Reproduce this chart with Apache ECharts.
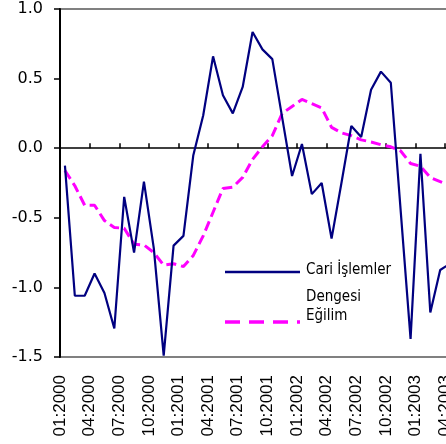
<!DOCTYPE html>
<html>
<head>
<meta charset="utf-8">
<script src="https://cdn.jsdelivr.net/npm/echarts@6/dist/echarts.min.js"></script>
<style>
  html, body { margin: 0; padding: 0; background: #fff; }
  #chart { width: 446px; height: 444px; }
</style>
</head>
<body>
<div id="chart"></div>
<script>
// aylar (veri noktalari)
const months = [
  '01:2000','02:2000','03:2000','04:2000','05:2000','06:2000','07:2000','08:2000','09:2000','10:2000','11:2000','12:2000',
  '01:2001','02:2001','03:2001','04:2001','05:2001','06:2001','07:2001','08:2001','09:2001','10:2001','11:2001','12:2001',
  '01:2002','02:2002','03:2002','04:2002','05:2002','06:2002','07:2002','08:2002','09:2002','10:2002','11:2002','12:2002',
  '01:2003','02:2003','03:2003','04:2003'
];
// eksen etiketleri (tik sinirlari)
const tickLabels = months.concat(['05:2003']);

const cariIslemler = [
  -0.125, -1.06, -1.06, -0.90, -1.04, -1.295, -0.35, -0.75, -0.24, -0.72, -1.49, -0.70,
  -0.63, -0.05, 0.235, 0.66, 0.38, 0.25, 0.44, 0.835, 0.71, 0.64, 0.22, -0.20,
  0.03, -0.33, -0.25, -0.65, -0.25, 0.16, 0.08, 0.42, 0.55, 0.47, -0.45, -1.37,
  -0.04, -1.18, -0.875, -0.83
];
const egilim = [
  -0.16, -0.27, -0.41, -0.41, -0.52, -0.57, -0.575, -0.69, -0.695, -0.75, -0.84, -0.83,
  -0.85, -0.77, -0.63, -0.46, -0.29, -0.28, -0.21, -0.08, 0.01, 0.09, 0.25, 0.30,
  0.35, 0.32, 0.29, 0.15, 0.11, 0.09, 0.06, 0.045, 0.025, 0.01, -0.02, -0.11,
  -0.13, -0.21, -0.24, -0.27
];

const chart = echarts.init(document.getElementById('chart'));
const legendFont = '"DejaVu Sans Condensed", "DejaVu Sans", sans-serif';

chart.setOption({
  animation: false,
  grid: {
    left: 60, top: 9, width: 395, height: 348,
    show: true, borderColor: '#808080', borderWidth: 2,
    outerBoundsMode: 'none'
  },
  xAxis: [
    {
      // alt etiketler
      type: 'category',
      data: tickLabels,
      boundaryGap: false,
      position: 'bottom',
      axisLine: { show: false, onZero: false },
      axisTick: { show: false },
      axisLabel: {
        rotate: 90, interval: 2, margin: 18,
        color: '#000', fontSize: 17, fontFamily: '"Liberation Sans", Arial, sans-serif'
      },
      splitLine: { show: false }
    },
    {
      // sifir cizgisi
      type: 'category',
      data: months,
      boundaryGap: true,
      position: 'top',
      axisLine: { show: true, onZero: true, lineStyle: { color: '#000', width: 1.5 } },
      axisTick: { show: true, interval: 2, length: 5, lineStyle: { color: '#000', width: 1.5 } },
      axisLabel: { show: false },
      splitLine: { show: false }
    }
  ],
  yAxis: {
    type: 'value',
    min: -1.5, max: 1.0, interval: 0.5,
    axisLine: { show: true, onZero: false, lineStyle: { color: '#000', width: 2 } },
    axisTick: { show: true, length: 6, lineStyle: { color: '#000', width: 1.5 } },
    axisLabel: {
      margin: 17, color: '#000', fontSize: 16,
      fontFamily: '"DejaVu Sans", sans-serif',
      formatter: v => v.toFixed(1)
    },
    splitLine: { show: false }
  },
  series: [
    {
      name: 'Cari İşlemler Dengesi',
      type: 'line',
      xAxisIndex: 1,
      data: cariIslemler,
      symbol: 'none',
      lineStyle: { color: '#000080', width: 2.2 },
      z: 3
    },
    {
      name: 'Eğilim',
      type: 'line',
      xAxisIndex: 1,
      data: egilim,
      symbol: 'none',
      lineStyle: { color: '#FF00FF', width: 3, type: [10, 5] },
      z: 2
    }
  ],
  graphic: [
    { type: 'line', shape: { x1: 225, y1: 272, x2: 300, y2: 272 }, style: { stroke: '#000080', lineWidth: 2.5 } },
    { type: 'line', shape: { x1: 225, y1: 322, x2: 300, y2: 322 }, style: { stroke: '#FF00FF', lineWidth: 3.5, lineDash: [15, 9] } },
    { type: 'text', x: 306, y: 270, style: { text: 'Cari İşlemler', font: '15px ' + legendFont, fill: '#000', verticalAlign: 'middle' } },
    { type: 'text', x: 306, y: 297, style: { text: 'Dengesi', font: '15px ' + legendFont, fill: '#000', verticalAlign: 'middle' } },
    { type: 'text', x: 306, y: 316, style: { text: 'Eğilim', font: '15px ' + legendFont, fill: '#000', verticalAlign: 'middle' } }
  ]
});
</script>
</body>
</html>
